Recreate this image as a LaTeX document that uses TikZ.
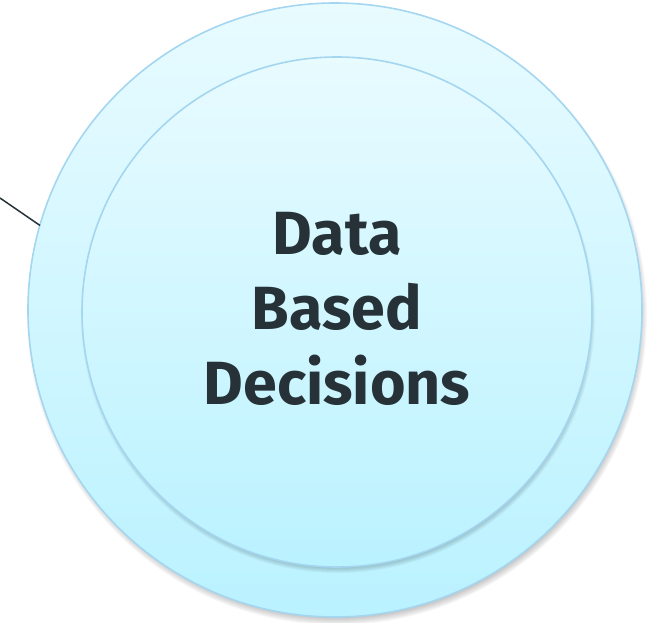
\documentclass[tikz,border=0pt]{standalone}
\usepackage{fontspec}
\setmainfont{Fira Sans}
\definecolor{ringtop}{RGB}{232,251,255}
\definecolor{ringbot}{RGB}{186,242,255}
\definecolor{ringedge}{RGB}{165,214,240}
\definecolor{ink}{RGB}{38,50,56}
\tikzset{
  ring/.style={circle, draw=ringedge, line width=1.6pt, top color=ringtop, bottom color=ringbot, inner sep=0pt, outer sep=0pt},
  label text/.style={font=\bfseries\fontsize{61}{75}\selectfont, text=ink, align=center},
  leader/.style={draw=ink, line width=1.5pt}
}
\begin{document}
\begin{tikzpicture}[x=1pt,y=-1pt]
\useasboundingbox (0,0) rectangle (659,623);
% soft shadow of outer circle
\foreach \k in {0,...,7}{
  \fill[black,opacity=0.03] (337,315) circle[radius=310-\k];
}
\node[ring, minimum size=614pt] (outer) at (335,310) {};
% soft shadow of inner circle
\foreach \k in {0,...,6}{
  \fill[black,opacity=0.035] (338,316) circle[radius=257-\k];
}
\node[ring, minimum size=510pt] (inner) at (337,312) {};
\node[label text] (txt) at (337,309) {Data\\Based\\Decisions};
\coordinate (free) at (0,198);
\draw[leader] (free) -- (outer.164);
\end{tikzpicture}
\end{document}
